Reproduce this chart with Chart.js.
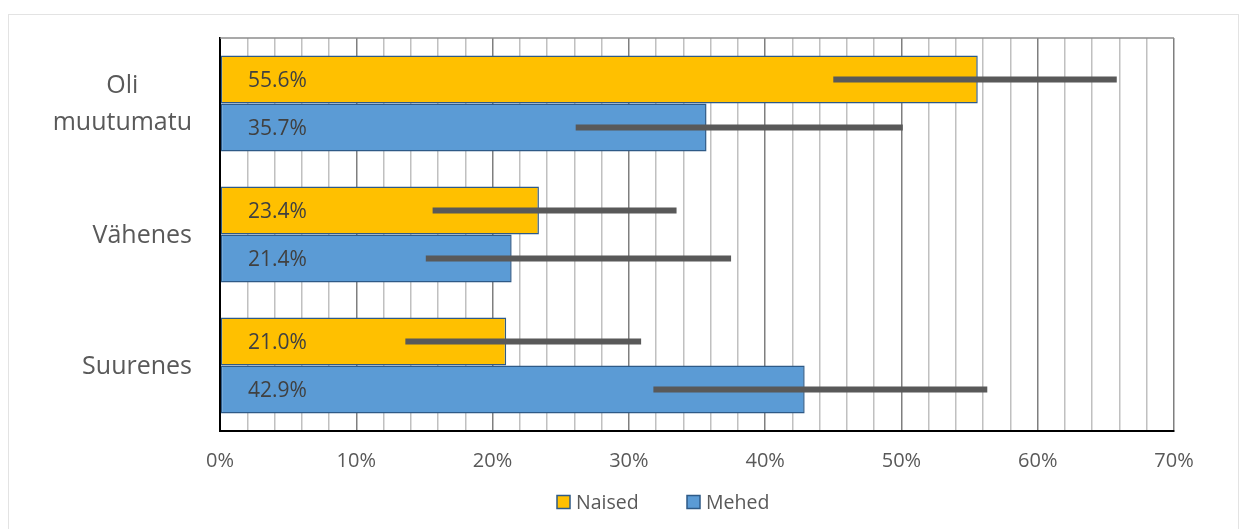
<!DOCTYPE html>
<html>
<head>
<meta charset="utf-8">
<script src="https://cdn.jsdelivr.net/npm/chart.js@4"></script>
<style>
    body { margin: 0; background: #fff; }
    #frame { position: absolute; left: 8px; top: 14px; width: 1229px; height: 520px; border: 1px solid #e3e3e3; }
    #wrap { position: absolute; left: 0; top: 0; width: 1246px; height: 529px; }
</style>
</head>
<body>
<div id="frame"></div>
<div id="wrap"><canvas id="chart" width="1246" height="529"></canvas></div>
<script>
const categories = [["Oli", "muutumatu"], ["Vähenes"], ["Suurenes"]];
const seriesNames = ["Naised", "Mehed"];
const naised = [55.6, 23.4, 21.0];
const mehed = [35.7, 21.4, 42.9];
const naisedLow = [45.0, 15.6, 13.6];
const naisedHigh = [65.8, 33.5, 30.9];
const mehedLow = [26.1, 15.1, 31.8];
const mehedHigh = [50.1, 37.5, 56.3];

const textColor = "#595959";
const edgeColor = "#2e5a87";
const fontFamily = "'Open Sans', sans-serif";

// error bars, value labels, category labels, legend and top border
const extras = {
    id: "extras",
    afterDatasetsDraw(chart) {
        let ctx = chart.ctx;
        let x = chart.scales.x;
        let area = chart.chartArea;
        let lows = [naisedLow, mehedLow];
        let highs = [naisedHigh, mehedHigh];

        ctx.save();
        // top border of the plot area
        ctx.strokeStyle = "#8c8c8c";
        ctx.lineWidth = 1.5;
        ctx.beginPath();
        ctx.moveTo(area.left, area.top);
        ctx.lineTo(area.right, area.top);
        ctx.stroke();

        // value labels
        ctx.font = "21px " + fontFamily;
        ctx.fillStyle = "#404040";
        ctx.textAlign = "left";
        ctx.textBaseline = "middle";
        chart.data.datasets.forEach((ds, di) => {
            chart.getDatasetMeta(di).data.forEach((bar, i) => {
                ctx.fillText(ds.data[i].toFixed(1) + "%", x.getPixelForValue(0) + 28, bar.y + 2);
            });
        });

        // error bars
        ctx.strokeStyle = "#595959";
        ctx.lineWidth = 6;
        ctx.lineCap = "butt";
        chart.data.datasets.forEach((ds, di) => {
            chart.getDatasetMeta(di).data.forEach((bar, i) => {
                ctx.beginPath();
                ctx.moveTo(x.getPixelForValue(lows[di][i]), bar.y);
                ctx.lineTo(x.getPixelForValue(highs[di][i]), bar.y);
                ctx.stroke();
            });
        });

        // category labels, right aligned, multi-line centred like Excel
        let y = chart.scales.y;
        let rightEdge = area.left - 28;
        ctx.font = "25px " + fontFamily;
        ctx.fillStyle = textColor;
        ctx.textAlign = "center";
        categories.forEach((lines, i) => {
            let widest = Math.max(...lines.map(l => ctx.measureText(l).width));
            let cx = rightEdge - widest / 2;
            let cy = y.getPixelForValue(i) + 1;
            let lh = 37;
            lines.forEach((l, k) => {
                ctx.fillText(l, cx, cy + (k - (lines.length - 1) / 2) * lh);
            });
        });

        // legend
        let legendX = [557, 687];
        let legendY = 502;
        ctx.font = "19.5px " + fontFamily;
        ctx.textAlign = "left";
        chart.data.datasets.forEach((ds, di) => {
            ctx.fillStyle = ds.backgroundColor;
            ctx.fillRect(legendX[di], legendY - 6.5, 13, 13);
            ctx.strokeStyle = edgeColor;
            ctx.lineWidth = 1.5;
            ctx.strokeRect(legendX[di], legendY - 6.5, 13, 13);
            ctx.fillStyle = textColor;
            ctx.fillText(ds.label, legendX[di] + 19, legendY + 1);
        });
        ctx.restore();
    }
};

new Chart(document.getElementById("chart"), {
    type: "bar",
    data: {
        labels: categories.map(c => c.join(" ")),
        datasets: [
            {
                label: seriesNames[0],
                data: naised,
                backgroundColor: "#ffc000",
                borderColor: edgeColor,
                borderWidth: 1.5,
                borderSkipped: false
            },
            {
                label: seriesNames[1],
                data: mehed,
                backgroundColor: "#5b9bd5",
                borderColor: edgeColor,
                borderWidth: 1.5,
                borderSkipped: false
            }
        ]
    },
    options: {
        indexAxis: "y",
        responsive: false,
        animation: false,
        datasets: {
            bar: { barPercentage: 1, categoryPercentage: 0.733 }
        },
        layout: { padding: { top: 38, right: 72, bottom: 38, left: 0 } },
        scales: {
            x: {
                min: 0,
                max: 70,
                border: { display: true, color: "#000", width: 2 },
                grid: {
                    drawTicks: false,
                    color: (c) => (c.tick && c.tick.value % 10 === 0) ? "#7f7f7f" : "#c0c0c0",
                    lineWidth: (c) => (c.tick && c.tick.value % 10 === 0) ? 1.5 : 1.5
                },
                ticks: {
                    stepSize: 2,
                    autoSkip: false,
                    maxRotation: 0,
                    padding: 18,
                    color: textColor,
                    font: { family: fontFamily, size: 20 },
                    callback: (v) => v % 10 === 0 ? v + "%" : ""
                },
                afterFit: (s) => { s.height = 60; }
            },
            y: {
                border: { display: true, color: "#000", width: 2 },
                grid: { display: false },
                ticks: { display: false },
                afterFit: (s) => { s.width = 220; }
            }
        },
        plugins: {
            legend: { display: false },
            tooltip: { enabled: false }
        }
    },
    plugins: [extras]
});
</script>
</body>
</html>
